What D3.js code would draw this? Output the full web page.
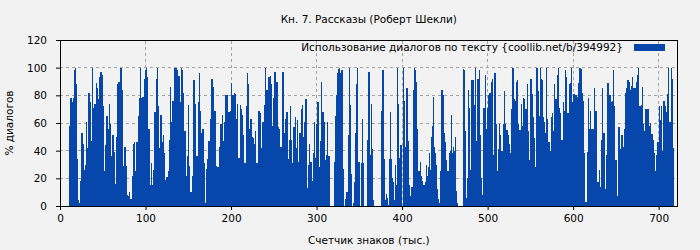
<!DOCTYPE html>
<html>
<head>
<meta charset="utf-8">
<script src="https://cdn.jsdelivr.net/npm/d3@7"></script>
<style>
  body { margin: 0; background: #f2f2f2; }
  svg text { font-family: "DejaVu Sans", sans-serif; fill: #000; }
</style>
</head>
<body>
<script>
// chart text
const title = "Кн. 7. Рассказы (Роберт Шекли)";
const seriesName = "Использование диалогов по тексту {coollib.net/b/394992}";
const xLabel = "Счетчик знаков (тыс.)";
const yLabel = "% диалогов";

// one bar per thousand characters, first bar at this counter value
const firstX = 10;

// share of dialogue, %
const dialog = [
  6,58,78,78,75,78,98, 100,88,34,34,4,2,18, 31,53,45,45,26,30,61, 42,42,82,82,75,47,100,
  71,51,74,74,89,85,75, 77,93,97,97,95,72,25, 12,44,65,65,56,74,59, 36,35,51,51,39,16,6,
  50,88,90,90,100,100,84, 27,29,43,43,29,8,6, 7,10,5,5,22,45,46, 25,14,46,46,65,78,100,
  78,33,79,79,92,98,100, 93,90,56,56,15,31,15, 0,26,68,68,92,100,72, 29,42,66,66,46,51,38,
  38,19,21,21,25,36,48, 86,61,76,76,100,86,100, 100,98,94,94,75,100,73, 98,82,54,54,22,2,36,
  73,29,10,10,22,59,91, 88,74,36,36,75,96,69, 28,53,56,56,31,0,2, 27,34,47,47,63,84,92,
  88,86,69,69,29,28,14, 28,43,59,59,66,44,47, 61,80,80,80,34,68,66, 69,89,80,80,82,74,81,
  63,74,35,35,73,56,70, 66,51,31,31,51,72,96, 88,56,63,63,50,49,22, 45,54,31,31,50,69,54,
  67,42,61,61,33,73,100, 84,84,93,93,94,88,52, 58,78,97,97,87,90,70, 57,56,43,43,76,97,81,
  53,63,68,68,34,21,48, 72,48,31,31,57,56,64, 42,62,32,32,53,52,70, 73,50,61,61,77,44,13,
  30,45,32,32,18,10,38, 61,35,59,59,75,51,28, 47,90,68,68,61,38,33, 37,61,36,36,0,0,0,
  0,0,32,32,65,80,96, 99,100,96,96,98,76,27, 0,5,10,10,5,51,100, 73,23,0,0,2,17,53,
  88,100,32,32,0,0,31, 63,31,0,0,0,0,48, 97,97,37,37,74,41,4, 0,0,0,0,0,0,0,
  0,69,98,98,80,34,4, 9,6,1,1,34,68,34, 20,17,4,4,30,15,100, 74,35,44,44,22,0,100,
  76,43,85,85,84,47,15, 7,14,14,14,84,100,98, 90,56,25,25,16,32,22, 18,12,15,15,17,30,22,
  28,38,26,26,50,58,79, 43,38,30,30,12,5,2, 25,50,84,84,80,53,46, 33,11,25,25,38,40,66,
  38,43,40,40,50,11,2, 0,0,0,0,0,0,99, 98,54,6,6,20,84,71, 26,46,91,91,91,73,100,
  47,65,92,92,98,51,20, 8,25,71,71,95,56,71, 80,67,82,82,90,92,37, 75,96,59,59,25,41,59,
  51,25,40,40,59,83,59, 35,55,51,51,45,38,70, 99,100,77,77,76,90,91, 59,18,55,55,74,58,78,
  77,44,70,70,88,54,33, 76,92,81,81,64,49,28, 56,100,83,83,65,100,92, 91,64,61,61,53,100,63,
  23,46,40,40,64,67,54, 30,88,77,77,95,100,71, 55,67,48,48,75,69,98, 85,93,67,67,88,89,100,
  75,70,81,81,80,80,79, 77,89,100,100,99,82,76, 38,3,3,3,39,78,56, 51,69,56,56,56,85,42,
  69,51,17,17,26,14,6, 48,85,53,53,12,37,75, 89,64,80,80,75,76,98, 72,61,33,33,7,28,57,
  42,41,51,51,43,48,56, 82,85,91,91,90,51,84, 87,93,85,85,85,79,90, 95,100,72,72,73,86,59,
  55,54,70,70,70,70,58, 41,60,52,52,48,38,25, 20,37,46,46,72,62,61, 72,40,76,76,72,68,40,
  81,100,61,61,100,92,42
];

const xTicks = [0, 100, 200, 300, 400, 500, 600, 700];
const yTicks = [0, 20, 40, 60, 80, 100, 120];

const width = 700, height = 250;
const margin = {top: 40, right: 22.5, bottom: 44, left: 60};
const barColor = "#0746aa";
const fontSize = 10.5;

const svg = d3.select("body").append("svg")
    .attr("width", width)
    .attr("height", height);

const x = d3.scaleLinear()
    .domain([0, 722])
    .range([margin.left, width - margin.right]);

const y = d3.scaleLinear()
    .domain([0, 120])
    .range([height - margin.bottom, margin.top]);

// grid
const grid = svg.append("g")
    .attr("stroke", "#a3a3a3")
    .attr("stroke-dasharray", "3,3")
    .attr("shape-rendering", "crispEdges");

grid.selectAll(".gy")
  .data(yTicks.filter(d => d > 0 && d < 120))
  .join("line")
    .attr("x1", x(0)).attr("x2", x(722))
    .attr("y1", d => y(d)).attr("y2", d => y(d));

grid.selectAll(".gx")
  .data(xTicks.filter(d => d > 0))
  .join("line")
    .attr("y1", y(0)).attr("y2", y(120))
    .attr("x1", d => x(d)).attr("x2", d => x(d));

// bars
const bw = x(1) - x(0);
svg.append("g")
    .attr("fill", barColor)
    .attr("shape-rendering", "crispEdges")
  .selectAll("rect")
  .data(dialog)
  .join("rect")
    .attr("x", (d, i) => x(firstX + i))
    .attr("y", d => y(d))
    .attr("width", bw + 0.3)
    .attr("height", d => y(0) - y(d));

// axes
svg.append("g")
    .attr("transform", `translate(0,${y(0)})`)
    .call(d3.axisBottom(x).tickValues(xTicks).tickSize(4).tickPadding(5))
    .call(g => g.select(".domain").remove())
    .call(g => g.selectAll("text").attr("font-size", fontSize).attr("font-family", "DejaVu Sans"));

svg.append("g")
    .attr("transform", `translate(${x(0)},0)`)
    .call(d3.axisLeft(y).tickValues(yTicks).tickSize(4).tickPadding(9))
    .call(g => g.select(".domain").remove())
    .call(g => g.selectAll("text").attr("font-size", fontSize).attr("font-family", "DejaVu Sans"));

// frame
svg.append("rect")
    .attr("x", x(0)).attr("y", y(120))
    .attr("width", x(722) - x(0)).attr("height", y(0) - y(120))
    .attr("fill", "none")
    .attr("stroke", "#000")
    .attr("shape-rendering", "crispEdges");

// title and axis labels
svg.append("text")
    .attr("x", (x(0) + x(722)) / 2)
    .attr("y", 22.5)
    .attr("text-anchor", "middle")
    .attr("font-size", fontSize)
    .text(title);

svg.append("text")
    .attr("x", (x(0) + x(722)) / 2)
    .attr("y", 244)
    .attr("text-anchor", "middle")
    .attr("font-size", fontSize)
    .text(xLabel);

svg.append("text")
    .attr("transform", `translate(12.5,${(y(0) + y(120)) / 2}) rotate(-90)`)
    .attr("text-anchor", "middle")
    .attr("font-size", fontSize)
    .text(yLabel);

// legend
const legend = svg.append("g");
legend.append("text")
    .attr("x", 623)
    .attr("y", 51)
    .attr("text-anchor", "end")
    .attr("font-size", fontSize)
    .text(seriesName);
legend.append("rect")
    .attr("x", 634).attr("y", 44)
    .attr("width", 31).attr("height", 7)
    .attr("fill", barColor);
</script>
</body>
</html>
